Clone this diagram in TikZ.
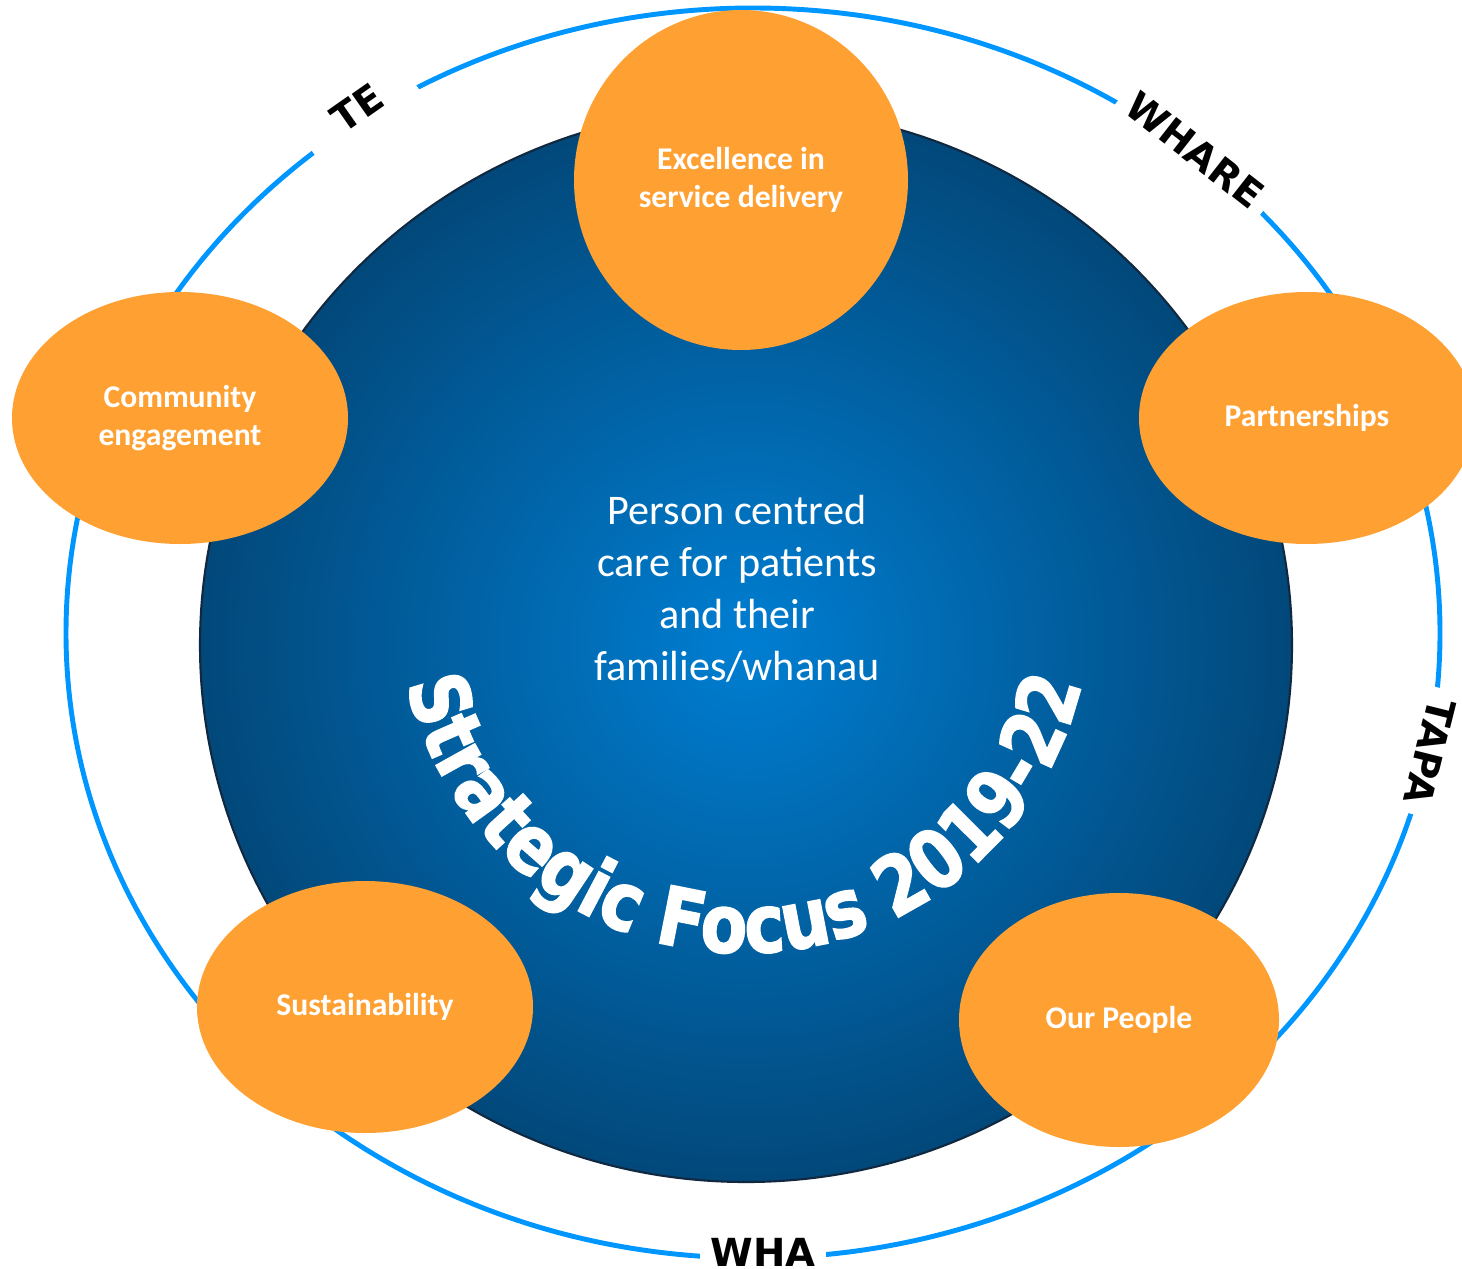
\documentclass[tikz,border=0pt]{standalone}
\usepackage{fontspec}
\setmainfont{Carlito}
\newfontfamily\tagfont{DejaVu Sans}
\newfontfamily\arcfont[FakeBold=2,FakeStretch=0.84]{DejaVu Sans Bold}
\usetikzlibrary{shapes.geometric,decorations.text}
\definecolor{ringblue}{RGB}{0,150,255}
\definecolor{petalorange}{RGB}{255,160,50}
\definecolor{discin}{RGB}{0,126,210}
\definecolor{discout}{RGB}{2,72,122}
\definecolor{discedge}{RGB}{16,40,64}

\begin{document}
\begin{tikzpicture}[x=0.1mm,y=-0.1mm,semithick]
  \tikzstyle{petal}=[ellipse,fill=petalorange,text=white,inner sep=0pt,align=center,
                     font=\bfseries\fontsize{9}{11}\selectfont]
  \tikzstyle{ringtag}=[fill=white,inner xsep=3pt,inner ysep=4pt,
                       font=\tagfont\bfseries\fontsize{11}{11}\selectfont]

  \useasboundingbox (0,0) rectangle (1462,1269);

  % outer ring and its words
  \draw[ringblue,line width=1.4pt] (753,633) ellipse [x radius=687,y radius=625];
  \node[ringtag,rotate=35,inner xsep=10pt] (te) at (357,108) {TE};
  \node[ringtag,rotate=-38] (whare) at (1195,150) {WHARE};
  \node[ringtag,rotate=-104] (tapa) at (1430,752) {TAPA};
  \node[ringtag] (wha) at (763,1252) {WHA};

  % blue disc
  \node[ellipse,minimum width=10.92cm,minimum height=10.74cm,inner sep=0pt,
        shading=radial,inner color=discin,outer color=discout,
        draw=discedge,line width=0.6pt] (disc) at (746,645) {};
  \node[text=white,align=center,font=\fontsize{12}{14.8}\selectfont] (centre) at (737,589)
    {Person centred\\care for patients\\and their\\families/whanau};
  \path[decorate,decoration={text along path,text align=center,
        text={|\arcfont\fontsize{23}{23}\selectfont\color{white}|Strategic Focus 2019-22}}]
    (744,607) ++(175:346) arc[start angle=175,end angle=5,radius=346];

  % focus areas
  \node[petal,minimum width=3.34cm,minimum height=3.40cm] (excel) at (741,180)
    {Excellence in\\service delivery};
  \node[petal,minimum width=3.36cm,minimum height=2.52cm] (commu) at (180,418)
    {Community\\engagement};
  \node[petal,minimum width=3.36cm,minimum height=2.52cm] (partner) at (1307,418)
    {Partnerships};
  \node[petal,minimum width=3.36cm,minimum height=2.52cm] (sustain) at (365,1007)
    {Sustainability};
  \node[petal,minimum width=3.20cm,minimum height=2.54cm] (people) at (1119,1020)
    {Our People};

\end{tikzpicture}
\end{document}
